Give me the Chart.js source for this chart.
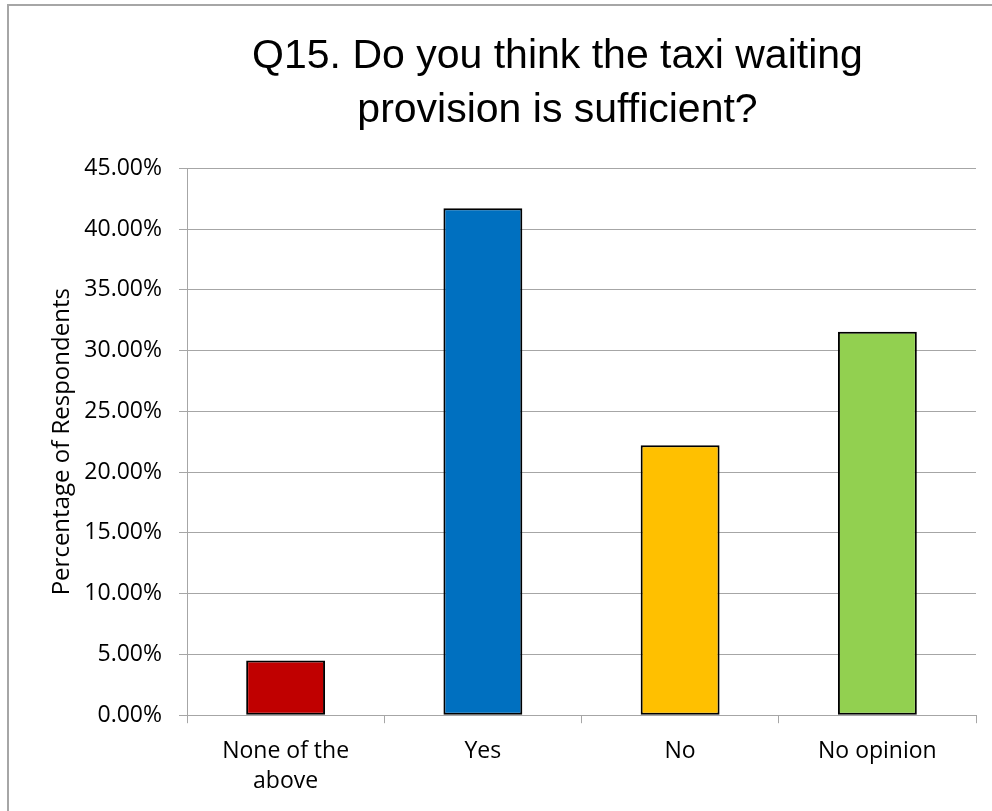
<!DOCTYPE html>
<html>
<head>
<meta charset="utf-8">
<script src="https://cdn.jsdelivr.net/npm/chart.js@4.4.0/dist/chart.umd.min.js"></script>
<style>
  body { margin: 0; background: #fff; }
  #wrap { position: relative; width: 992px; height: 811px; overflow: hidden; }
  #frame { position: absolute; left: 7px; top: 4px; width: 1000px; height: 900px;
           border-left: 2px solid #a6a6a6; border-top: 2px solid #a6a6a6; }
  canvas { position: absolute; left: 0; top: 0; }
</style>
</head>
<body>
<div id="wrap">
  <div id="frame"></div>
  <canvas id="grafica" width="992" height="811"></canvas>
</div>
<script>
// datos del grafico
const categorias = [['None of the', 'above'], 'Yes', 'No', 'No opinion'];
const porcentajes = [4.5, 41.7, 22.2, 31.55];
const colores = ['#C00000', '#0070C0', '#FFC000', '#92D050'];
const titulo = ['Q15. Do you think the taxi waiting', 'provision is sufficient?'];
const tituloEjeY = 'Percentage of Respondents';
const ejeMax = 45;
const ejePaso = 5;

document.addEventListener('DOMContentLoaded', function() {
    const ctx = document.getElementById('grafica').getContext('2d');
    const fuenteEjes = "'Open Sans', sans-serif";

    // el titulo va centrado sobre la zona a la derecha de x=139
    const moverTitulo = {
        id: 'moverTitulo',
        afterLayout: function(chart) {
            if (chart.titleBlock) chart.titleBlock.left = 139;
        }
    };

    new Chart(ctx, {
        type: 'bar',
        data: {
            labels: categorias,
            datasets: [{
                data: porcentajes,
                backgroundColor: colores,
                borderColor: '#000000',
                borderWidth: 2,
                borderSkipped: false,
                barPercentage: 0.4,
                categoryPercentage: 1.0
            }]
        },
        options: {
            responsive: false,
            animation: false,
            layout: {
                padding: { left: 0, right: 16, top: 0, bottom: 2 }
            },
            plugins: {
                legend: { display: false },
                tooltip: { enabled: false },
                title: {
                    display: true,
                    text: titulo,
                    color: '#000000',
                    font: { family: "'Liberation Sans', Arial, sans-serif", size: 41, weight: 'normal', lineHeight: 1.32 },
                    padding: { top: 30, bottom: 30 }
                }
            },
            scales: {
                x: {
                    grid: {
                        offset: true,
                        drawOnChartArea: false,
                        drawTicks: true,
                        tickLength: 8,
                        color: '#a6a6a6'
                    },
                    border: { color: '#a6a6a6', width: 1 },
                    ticks: {
                        color: '#000000',
                        padding: 13,
                        maxRotation: 0,
                        autoSkip: false,
                        font: { family: fuenteEjes, size: 23, lineHeight: 1.3 }
                    }
                },
                y: {
                    min: 0,
                    max: ejeMax,
                    afterFit: function(scale) { scale.width = 187; },
                    grid: {
                        color: '#a6a6a6',
                        tickLength: 8
                    },
                    border: { color: '#a6a6a6', width: 1 },
                    ticks: {
                        stepSize: ejePaso,
                        color: '#000000',
                        padding: 17,
                        font: { family: fuenteEjes, size: 23 },
                        callback: function(valor) { return valor.toFixed(2) + '%'; }
                    },
                    title: {
                        display: true,
                        text: tituloEjeY,
                        color: '#000000',
                        padding: { top: 48, bottom: 0 },
                        font: { family: fuenteEjes, size: 24 }
                    }
                }
            }
        },
        plugins: [moverTitulo]
    });
});
</script>
</body>
</html>
